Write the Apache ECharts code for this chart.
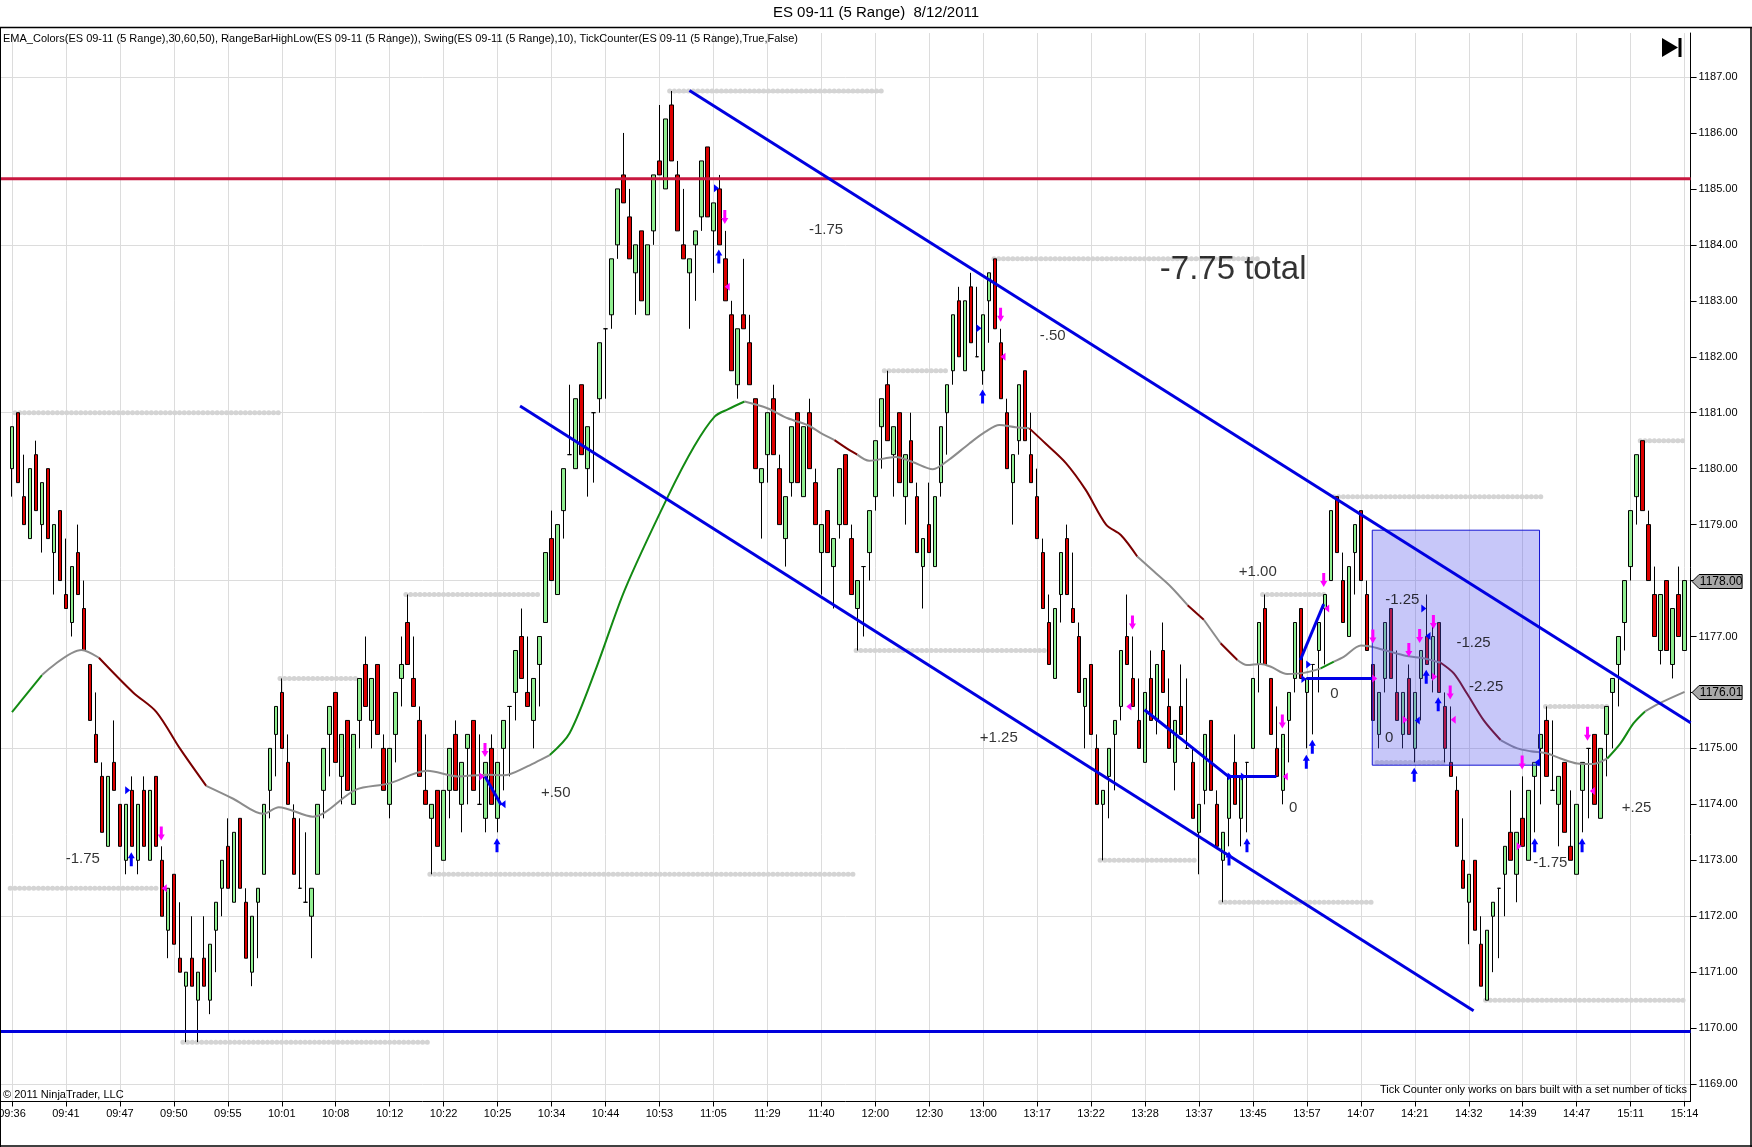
<!DOCTYPE html>
<html><head><meta charset="utf-8">
<script src="https://cdn.jsdelivr.net/npm/echarts@6/dist/echarts.min.js"></script>
<style>html,body{margin:0;padding:0;background:#fff;}#c{width:1752px;height:1147px;}</style>
</head><body><div id="c"></div>
<script>
// ---------- data ----------
const titleText = 'ES 09-11 (5 Range)  8/12/2011';
const indicatorText = 'EMA_Colors(ES 09-11 (5 Range),30,60,50), RangeBarHighLow(ES 09-11 (5 Range)), Swing(ES 09-11 (5 Range),10), TickCounter(ES 09-11 (5 Range),True,False)';
const timeLabels = ['09:36','09:41','09:47','09:50','09:55','10:01','10:08','10:12','10:22','10:25','10:34','10:44','10:53','11:05','11:29','11:40','12:00','12:30','13:00','13:17','13:22','13:28','13:37','13:45','13:57','14:07','14:21','14:32','14:39','14:47','15:11','15:14'];
const labelEvery = 9;
const yTickMin = 1169, yTickMax = 1187;
// bars: [open, close, low, high]
const bars = [
[1180.0,1180.75,1179.5,1180.75],[1181,1179.75,1179.75,1181],[1179.5,1179.0,1179.0,1180.25],[1178.75,1180,1178.75,1180],[1180.25,1179.25,1179.25,1180.5],
[1179.0,1179.75,1178.5,1179.75],[1180,1178.75,1178.75,1180],[1178.5,1179,1177.75,1179],[1179.25,1178,1178,1179.25],[1177.75,1177.5,1177.5,1178.75],
[1177.25,1178.25,1177.0,1178.25],[1178.5,1177.75,1177.75,1179],[1177.5,1176.75,1176.75,1178],[1176.5,1175.5,1175.5,1176.5],[1175.25,1174.75,1174.75,1176.0],
[1174.5,1173.5,1173.5,1174.75],[1173.25,1174.5,1173.25,1174.5],[1174.75,1174.25,1174.25,1175.5],[1174.0,1173.25,1173.25,1174.0],[1173.0,1174.0,1172.75,1174.0],
[1174.25,1173.25,1173.25,1174.5],[1173.0,1174.0,1172.75,1174.0],[1174.25,1173.25,1173.25,1174.5],[1173.0,1174.25,1173.0,1174.25],[1174.5,1173.25,1173.25,1174.5],
[1173.0,1172.0,1172.0,1173.25],[1171.75,1172.5,1171.25,1172.5],[1172.75,1171.5,1171.5,1172.75],[1171.25,1171.0,1171.0,1172.25],[1170.75,1171.0,1169.75,1171.0],
[1171.25,1170.75,1170.75,1172.0],[1170.5,1171.0,1169.75,1171.0],[1171.25,1170.75,1170.75,1172.0],[1170.5,1171.5,1170.25,1171.5],[1171.75,1172.25,1171.0,1172.25],
[1172.5,1173.0,1172.0,1173.0],[1173.25,1172.5,1172.5,1173.75],[1172.25,1173.5,1172.25,1173.5],[1173.75,1172.5,1172.5,1173.75],[1172.25,1171.25,1171.25,1172.5],
[1171.0,1172.0,1170.75,1172.0],[1172.25,1172.5,1171.25,1172.5],[1172.75,1174.0,1172.75,1174.0],[1174.25,1175.0,1173.75,1175.0],[1175.25,1175.75,1174.5,1175.75],
[1176.0,1175.0,1175.0,1176.25],[1174.75,1174.0,1174.0,1175.25],[1173.75,1172.75,1172.75,1174.0],[1172.5,1172.5,1172.5,1173.75],[1172.25,1172.25,1172.25,1173.5],
[1172.0,1172.5,1171.25,1172.5],[1172.75,1174.0,1172.75,1174.0],[1174.25,1175.0,1173.75,1175.0],[1175.25,1175.75,1174.5,1175.75],[1176.0,1174.75,1174.75,1176.0],
[1174.5,1175.25,1174.0,1175.25],[1175.5,1174.25,1174.25,1175.5],[1174.0,1175.25,1174.0,1175.25],[1175.5,1176.25,1175.0,1176.25],[1176.5,1175.75,1175.75,1177.0],
[1175.5,1176.25,1175.0,1176.25],[1176.5,1175.25,1175.25,1176.5],[1175.0,1174.25,1174.25,1175.25],[1174.0,1175.0,1173.75,1175.0],[1175.25,1176.0,1174.75,1176.0],
[1176.25,1176.5,1175.75,1177.0],[1177.25,1176.5,1176.5,1177.75],[1176.25,1175.75,1175.75,1177.0],[1175.5,1174.5,1174.5,1175.75],[1174.25,1174.0,1174.0,1175.25],
[1173.75,1174.0,1172.75,1174.0],[1174.25,1173.25,1173.25,1174.25],[1173.0,1174.25,1173.0,1174.25],[1174.25,1175.0,1173.75,1175.0],[1175.25,1174.25,1174.25,1175.5],
[1174.0,1174.75,1173.5,1174.75],[1175.0,1175.25,1174.0,1175.25],[1175.5,1174.25,1174.25,1175.5],[1174.0,1174.0,1174.0,1175.25],[1173.75,1174.75,1173.5,1174.75],
[1175.0,1174.0,1174.0,1175.25],[1173.75,1174.75,1173.5,1174.75],[1175.0,1175.5,1174.25,1175.5],[1175.75,1175.75,1174.5,1175.75],[1176.0,1176.75,1175.5,1176.75],
[1177.0,1176.25,1176.25,1177.5],[1176.0,1175.75,1175.75,1177.0],[1175.5,1176.25,1175.0,1176.25],[1176.5,1177.0,1175.75,1177.0],[1177.25,1178.5,1177.25,1178.5],
[1178.75,1178.0,1178.0,1179.25],[1177.75,1179.0,1177.75,1179.0],[1179.25,1180.0,1178.75,1180.0],[1180.25,1180.25,1180.25,1181.5],[1180.0,1181.25,1180.0,1181.25],
[1181.5,1180.25,1180.25,1181.5],[1180.0,1180.75,1179.5,1180.75],[1181.0,1181.0,1179.75,1181.0],[1181.25,1182.25,1181.0,1182.25],[1182.5,1182.5,1181.25,1182.5],
[1182.75,1183.75,1182.5,1183.75],[1184.0,1185.0,1183.75,1185.0],[1185.25,1184.75,1184.75,1186.0],[1184.5,1183.75,1183.75,1185.0],[1183.5,1184.0,1182.75,1184.0],
[1184.25,1183.0,1183.0,1184.25],[1182.75,1184.0,1182.75,1184.0],[1184.25,1185.25,1184.0,1185.25],[1185.5,1185.25,1185.25,1186.5],[1185.0,1186.25,1185.0,1186.25],
[1186.5,1185.5,1185.5,1186.75],[1185.25,1184.25,1184.25,1185.5],[1184.0,1183.75,1183.75,1185.0],[1183.5,1183.75,1182.5,1183.75],[1184.0,1184.25,1183.0,1184.25],
[1184.5,1185.5,1184.25,1185.5],[1185.75,1184.5,1184.5,1185.75],[1184.25,1184.75,1183.5,1184.75],[1185.0,1184.0,1184.0,1185.25],[1183.75,1183.0,1183.0,1184.25],
[1182.75,1181.75,1181.75,1183.0],[1181.5,1182.5,1181.25,1182.5],[1182.75,1182.5,1182.5,1183.75],[1182.25,1181.5,1181.5,1182.75],[1181.25,1180.0,1180.0,1181.25],
[1179.75,1180.0,1178.75,1180.0],[1180.25,1181.0,1179.75,1181.0],[1181.25,1180.25,1180.25,1181.5],[1180.0,1179.0,1179.0,1180.25],[1178.75,1179.5,1178.25,1179.5],
[1179.75,1180.75,1179.5,1180.75],[1181.0,1179.75,1179.75,1181.0],[1179.5,1180.75,1179.5,1180.75],[1181.0,1180.0,1180.0,1181.25],[1179.75,1179.0,1179.0,1180.0],
[1178.5,1179.0,1177.75,1179.0],[1179.25,1178.5,1178.5,1179.25],[1178.25,1178.75,1177.5,1178.75],[1179.0,1180.0,1178.75,1180.0],[1180.25,1179.0,1179.0,1180.25],
[1178.75,1177.75,1177.75,1179.0],[1177.5,1178.0,1176.75,1178.0],[1178.25,1178.25,1177.0,1178.25],[1178.5,1179.25,1178.0,1179.25],[1179.5,1180.5,1179.25,1180.5],
[1180.75,1181.25,1180.0,1181.25],[1181.5,1180.5,1180.5,1181.75],[1180.25,1180.75,1179.5,1180.75],[1181.0,1179.75,1179.75,1181.0],[1179.5,1180.25,1179.0,1180.25],
[1180.5,1179.75,1179.75,1181.0],[1179.5,1178.5,1178.5,1179.75],[1178.25,1178.75,1177.5,1178.75],[1179.0,1178.5,1178.5,1179.75],[1178.25,1179.5,1178.25,1179.5],
[1179.75,1180.75,1179.5,1180.75],[1181.0,1181.5,1180.25,1181.5],[1181.75,1182.75,1181.5,1182.75],[1183.0,1182.0,1182.0,1183.25],[1181.75,1183.0,1181.75,1183.0],
[1183.25,1182.25,1182.25,1183.5],[1182.0,1182.0,1182.0,1183.25],[1181.75,1182.75,1181.5,1182.75],[1183.0,1183.5,1182.25,1183.5],[1183.75,1182.5,1182.5,1183.75],
[1182.25,1181.25,1181.25,1182.5],[1181.0,1180.0,1180.0,1181.25],[1179.75,1180.25,1179.0,1180.25],[1180.5,1181.5,1180.25,1181.5],[1181.75,1180.5,1180.5,1181.75],
[1180.25,1179.75,1179.75,1181.0],[1179.5,1178.75,1178.75,1180.0],[1178.5,1177.5,1177.5,1178.75],[1177.25,1176.5,1176.5,1177.75],[1176.25,1177.5,1176.25,1177.5],
[1177.75,1178.5,1177.25,1178.5],[1178.75,1177.75,1177.75,1179.0],[1177.5,1177.25,1177.25,1178.5],[1177.0,1176.0,1176.0,1177.25],[1175.75,1176.25,1175.0,1176.25],
[1176.5,1175.25,1175.25,1176.5],[1175.0,1174.0,1174.0,1175.25],[1174.0,1174.25,1173.0,1174.25],[1174.5,1175.0,1173.75,1175.0],[1175.25,1175.5,1174.25,1175.5],
[1175.75,1176.75,1175.5,1176.75],[1177.0,1176.5,1176.5,1177.75],[1176.25,1175.75,1175.75,1177.0],[1175.5,1175.0,1175.0,1176.25],[1174.75,1176.0,1174.75,1176.0],
[1176.25,1175.5,1175.5,1176.75],[1175.5,1176.5,1175.25,1176.5],[1176.75,1176.0,1176.0,1177.25],[1175.75,1175.0,1175.0,1176.25],[1174.75,1175.5,1174.25,1175.5],
[1175.75,1175.25,1175.25,1176.5],[1175.0,1175.0,1175.0,1176.25],[1174.75,1173.75,1173.75,1175.0],[1173.5,1174.0,1172.75,1174.0],[1174.25,1175.25,1174.0,1175.25],
[1175.5,1174.25,1174.25,1175.5],[1174.0,1173.25,1173.25,1174.25],[1173.0,1173.5,1172.25,1173.5],[1173.75,1174.5,1173.25,1174.5],[1174.75,1174.0,1174.0,1175.25],
[1173.75,1174.5,1173.25,1174.5],[1174.75,1174.75,1173.5,1174.75],[1175.0,1176.25,1175.0,1176.25],[1176.5,1177.25,1176.0,1177.25],[1177.5,1176.5,1176.5,1177.75],
[1176.25,1175.25,1175.25,1176.25],[1175.0,1174.5,1174.5,1175.75],[1174.25,1175.25,1174.0,1175.25],[1175.5,1176.0,1174.75,1176.0],[1176.25,1177.25,1176.0,1177.25],
[1177.5,1176.25,1176.25,1177.5],[1176.0,1176.25,1175.0,1176.25],[1176.5,1176.5,1175.25,1176.5],[1176.75,1177.25,1176.0,1177.25],[1177.5,1177.75,1176.5,1177.75],
[1178.0,1179.25,1178.0,1179.25],[1179.5,1178.5,1178.5,1179.5],[1178.0,1177.25,1177.25,1178.5],[1177.0,1178.25,1177.0,1178.25],[1178.5,1179.0,1177.75,1179.0],
[1179.25,1178.0,1178.0,1179.25],[1177.75,1176.75,1176.75,1178.0],[1176.5,1175.5,1175.5,1176.5],[1175.25,1176.0,1175.0,1176.0],[1176.25,1177.25,1176.0,1177.25],
[1177.5,1176.25,1176.25,1177.5],[1176.0,1175.5,1175.5,1176.75],[1175.25,1176.0,1175.0,1176.0],[1176.25,1175.25,1175.25,1176.5],[1175.0,1176.0,1174.75,1176.0],
[1176.25,1176.75,1175.5,1176.75],[1177.0,1176.5,1176.5,1177.75],[1176.25,1177.0,1176.0,1177.25],[1177.25,1176.0,1176.0,1177.25],[1175.75,1175.0,1174.75,1176.0],
[1174.75,1174.5,1174.5,1175.75],[1174.25,1173.25,1173.25,1174.5],[1173.0,1172.5,1172.5,1173.75],[1172.25,1172.75,1171.5,1172.75],[1173.0,1171.75,1171.75,1173.0],
[1171.5,1170.75,1170.75,1172.0],[1170.5,1171.75,1170.5,1171.75],[1172.0,1172.25,1171.0,1172.25],[1172.5,1172.5,1171.25,1172.5],[1172.75,1173.25,1172.0,1173.25],
[1173.5,1173.0,1173.0,1174.25],[1172.75,1173.5,1172.25,1173.5],[1173.75,1173.25,1173.25,1174.5],[1173.0,1174.25,1173.0,1174.25],[1174.5,1174.75,1173.5,1174.75],
[1175.0,1175.25,1174.0,1175.25],[1175.5,1174.5,1174.5,1175.75],[1174.25,1174.25,1174.25,1175.5],[1174.0,1174.5,1173.25,1174.5],[1174.75,1173.5,1173.5,1174.75],
[1173.25,1173.0,1173.0,1174.25],[1172.75,1174.0,1172.75,1174.0],[1174.25,1174.75,1173.5,1174.75],[1175.0,1175.0,1173.75,1175.0],[1175.25,1174.0,1174.0,1175.25],
[1173.75,1175.0,1173.75,1175.0],[1175.25,1175.75,1174.5,1175.75],[1176.0,1176.25,1175.0,1176.25],[1176.5,1177.0,1175.75,1177.0],[1177.25,1178.0,1176.75,1178.0],
[1178.25,1179.25,1178.0,1179.25],[1179.5,1180.25,1179.0,1180.25],[1180.5,1179.25,1179.25,1180.5],[1179.0,1178.0,1178.0,1179.25],[1177.75,1177.0,1177.0,1178.25],
[1176.75,1177.75,1176.5,1177.75],[1178.0,1176.75,1176.75,1178.0],[1176.5,1177.5,1176.25,1177.5],[1177.75,1177.0,1177.0,1178.25],[1176.75,1178.0,1176.75,1178.0]
];
// EMA: [bar position, value, colour state g=rising r=falling n=flat]
const emaPoints = [
[0,1175.65,'g'],[5,1176.31,'n'],[11.6,1176.76,'n'],[14.5,1176.62,'r'],[20.2,1176.0,'r'],[24.1,1175.65,'r'],[28,1175.0,'r'],[32.4,1174.33,'n'],
[36.9,1174.1,'n'],[41.9,1173.83,'n'],[44.5,1173.95,'n'],[50.2,1173.78,'n'],[57.3,1174.26,'n'],[62.8,1174.37,'n'],[69.3,1174.6,'n'],[74.3,1174.5,'n'],
[79.3,1174.53,'n'],[82.1,1174.52,'n'],[85.8,1174.67,'n'],[89.7,1174.88,'g'],[93,1175.27,'g'],[97.5,1176.45,'g'],[102.2,1177.83,'g'],[109.4,1179.5,'g'],
[113.8,1180.4,'g'],[117.2,1180.93,'g'],[119.4,1181.06,'g'],[122.2,1181.2,'n'],[126,1181.08,'n'],[129.4,1180.9,'n'],[132.7,1180.78,'n'],[135,1180.63,'n'],
[137.2,1180.51,'r'],[139.7,1180.33,'r'],[141,1180.25,'n'],[143,1180.14,'n'],[147.4,1180.21,'n'],[150.2,1180.12,'n'],[153.6,1179.99,'n'],[156.3,1180.16,'n'],
[159.7,1180.45,'n'],[162.4,1180.66,'n'],[164.7,1180.78,'n'],[167.4,1180.74,'n'],[169.7,1180.72,'r'],[172.4,1180.45,'r'],[175.8,1180.1,'r'],[179.1,1179.62,'r'],
[182.5,1179.0,'r'],[185,1178.81,'r'],[187.7,1178.43,'n'],[190.5,1178.16,'n'],[193.3,1177.89,'n'],[196.1,1177.56,'r'],[198.8,1177.3,'n'],[201.6,1176.88,'r'],
[204.4,1176.58,'n'],[206,1176.49,'n'],[208.3,1176.51,'n'],[210,1176.46,'n'],[212.7,1176.33,'n'],[215.5,1176.35,'n'],[218.3,1176.43,'g'],[220.5,1176.55,'n'],
[222.2,1176.64,'n'],[225,1176.84,'n'],[226.6,1176.82,'n'],[228.8,1176.76,'n'],[232.7,1176.65,'n'],[235.5,1176.61,'n'],[238.3,1176.53,'r'],[240.5,1176.34,'r'],
[242.7,1175.98,'r'],[245.5,1175.5,'r'],[248.3,1175.15,'n'],[251.1,1175.0,'n'],[253.3,1174.95,'n'],[256.1,1174.91,'n'],[258.3,1174.82,'n'],[261.1,1174.73,'n'],
[263.8,1174.72,'n'],[266.1,1174.82,'g'],[268.3,1175.09,'g'],[270.5,1175.45,'g'],[272.4,1175.66,'n'],[274.7,1175.8,'n'],[279,1176.01,'n']
];
// RangeBarHighLow dotted levels: [price, from bar, to bar]
const rangeLevels = [
[1181.0,0.5,44.5],[1172.5,-0.3,24.7],[1169.75,28.5,69.3],[1176.25,44.7,58],[1177.75,65.7,88.3],[1172.75,69.7,140.4],
[1186.75,109.7,145],[1181.75,145.5,156.3],[1183.75,163.8,208.3],[1176.75,140.8,172.4],[1173.0,181.5,197.4],[1172.25,201.6,227.4],
[1177.75,208.6,219.1],[1179.5,220.5,255.3],[1174.75,227.7,239.4],[1175.75,255.8,266.3],[1170.5,245.8,279.5],[1180.5,271.6,279.4]
];
const redLevel = 1185.18;
const blueLevel = 1169.94;
const channelUpper = [[113,1186.76],[280,1175.46]];
const channelLower = [[84.75,1181.12],[243.8,1170.31]];
const swingLines = [
[[78.9,1174.5],[81.6,1173.99]],
[[188.9,1175.69],[202.9,1174.5],[210.9,1174.5]],
[[214.9,1176.58],[218.8,1177.58]],
[[215.9,1176.25],[226.9,1176.25]]
];
const boxArea = [226.9,1178.9,254.8,1174.7];
const upArrows = [[19.9,1173.02],[80.9,1173.27],[117.9,1183.79],[161.9,1181.29],[203,1173.03],[206,1173.27],[215.9,1174.76],[216.9,1175.03],[235.9,1176.28],[237.9,1175.79],[233.9,1174.53],[254,1173.27],[261.9,1173.27]];
const downArrows = [[24.9,1173.48],[78.9,1174.97],[118.9,1184.5],[164.9,1182.75],[186.9,1177.25],[211.9,1175.48],[218.8,1178.01],[227.0,1177.0],[237.1,1177.26],[234.8,1177.01],[233,1176.76],[239.9,1176.0],[251.9,1174.75],[262.8,1175.26]];
const blueRightTris = [[19.3,1174.25],[117.5,1185.01],[161.3,1182.51],[203.2,1174.5],[205.4,1174.5],[215.5,1176.24],[216.3,1176.5],[235.5,1177.5]];
const blueLeftTris = [[81.9,1174.0],[236.2,1177.01],[234.4,1175.5],[254.4,1174.75]];
const pinkRightTris = [[78.4,1174.5],[227.3,1176.25],[237.3,1176.28],[232.4,1175.51],[251.4,1173.25]];
const pinkLeftTris = [[25.4,1172.5],[119.3,1183.25],[165.3,1182.0],[186.3,1175.75],[212.4,1174.5],[219.3,1177.5],[240.4,1175.51],[263.6,1174.24]];
const notes = [
[11.8,1173.02,'-1.75',15],[135.8,1184.27,'-1.75',15],[203.7,1183.55,'-7.75 total',33],[173.6,1182.37,'-.50',15],
[90.7,1174.2,'+.50',15],[164.6,1175.18,'+1.25',15],[207.8,1178.15,'+1.00',15],[220.6,1175.98,'0',15],[213.7,1173.93,'0',15],
[231.9,1177.66,'-1.25',15],[243.8,1176.89,'-1.25',15],[245.9,1176.1,'-2.25',15],[229.7,1175.18,'0',15],[256.6,1172.96,'-1.75',15],[271,1173.93,'+.25',15]
];
const priceTags = [1178.00, 1176.01];

// ---------- layout constants ----------
const W = 1752, H = 1147;
const FONT = '"Liberation Sans", Arial, sans-serif';
const xMin = -2, xMax = 280;
const plotRightEdge = 1690.6;
const pxPerPoint = 55.95, y1187 = 77;
const gridTop = 33, gridBottomY = 1101.5;
const yMaxMain = yTickMax + (y1187 - gridTop) / pxPerPoint;
const yMinMain = yTickMax - (gridBottomY - y1187) / pxPerPoint;
const y1169 = y1187 + (yTickMax - yTickMin) * pxPerPoint;

const cats = [];
for (let k = xMin; k <= xMax; k++) {
  cats.push(k >= 0 && k % labelEvery === 0 && k / labelEvery < timeLabels.length ? timeLabels[k / labelEvery] : '');
}
const isLabelled = function (i, v) { return v !== ''; };

const chart = echarts.init(document.getElementById('c'), null, {renderer: 'canvas'});

const series = [];
// dotted range levels
rangeLevels.forEach(l => series.push({
  type: 'line', xAxisIndex: 0, yAxisIndex: 0, symbol: 'none', silent: true, z: 1,
  data: [[l[1], l[0]], [l[2], l[0]]],
  lineStyle: {color: '#d4d4d4', width: 5, type: [0.1, 4.6], cap: 'round'}
}));
// candles
series.push({
  type: 'candlestick', xAxisIndex: 0, yAxisIndex: 0, z: 3, barWidth: 4,
  data: bars.map((b, i) => [i, b[0], b[1], b[2], b[3]]),
  encode: {x: 0, y: [1, 2, 3, 4]},
  itemStyle: {color: '#90ee90', color0: '#dd0000', borderColor: '#000', borderColor0: '#000', borderColorDoji: '#000', borderWidth: 1}
});
// EMA coloured segments
const emaColors = {g: '#138a13', r: '#7a0000', n: '#8c8c8c'};
const groups = [];
let cur = null;
for (let i = 0; i < emaPoints.length - 1; i++) {
  const st = emaPoints[i][2];
  if (!cur || cur.st !== st) { cur = {st: st, pts: [[emaPoints[i][0], emaPoints[i][1]]]}; groups.push(cur); }
  cur.pts.push([emaPoints[i + 1][0], emaPoints[i + 1][1]]);
}
groups.forEach(g => series.push({
  type: 'line', xAxisIndex: 0, yAxisIndex: 0, symbol: 'none', silent: true, z: 4, smooth: 0.3,
  data: g.pts, lineStyle: {color: emaColors[g.st], width: 2}
}));
// box
series.push({
  type: 'custom', xAxisIndex: 0, yAxisIndex: 0, z: 5, silent: true, data: [boxArea],
  renderItem: function (params, api) {
    const a = api.coord([api.value(0), api.value(1)]);
    const b = api.coord([api.value(2), api.value(3)]);
    return {type: 'rect', shape: {x: a[0], y: a[1], width: b[0] - a[0], height: b[1] - a[1]},
      style: {fill: 'rgba(80,80,235,0.32)', stroke: '#1414d2', lineWidth: 1}};
  }
});
// horizontal levels
series.push({type: 'line', xAxisIndex: 0, yAxisIndex: 0, symbol: 'none', silent: true, z: 6,
  data: [[xMin, redLevel], [xMax, redLevel]], lineStyle: {color: '#c8173f', width: 3}});
series.push({type: 'line', xAxisIndex: 0, yAxisIndex: 0, symbol: 'none', silent: true, z: 6,
  data: [[xMin, blueLevel], [xMax, blueLevel]], lineStyle: {color: '#0000dc', width: 3}});
// channel lines
[channelUpper, channelLower].forEach(c => series.push({type: 'line', xAxisIndex: 0, yAxisIndex: 0, symbol: 'none', silent: true, z: 6,
  data: c, lineStyle: {color: '#0000e0', width: 3}}));
// swing lines
swingLines.forEach(s => series.push({type: 'line', xAxisIndex: 0, yAxisIndex: 0, symbol: 'none', silent: true, z: 6,
  data: s, lineStyle: {color: '#0000e6', width: 3}}));
// markers
const upPath = 'path://M3.5,0 L7,6 L5,6 L5,14 L2,14 L2,6 L0,6 Z';
const downPath = 'path://M2,0 L5,0 L5,8 L7,8 L3.5,14 L0,8 L2,8 Z';
const rightPath = 'path://M0,0 L6,4 L0,8 Z';
const leftPath = 'path://M6,0 L0,4 L6,8 Z';
[[upArrows, upPath, [7, 14], '#0000ff'], [downArrows, downPath, [7, 14], '#ff00ff'],
 [blueRightTris, rightPath, [5, 8], '#0000ff'], [blueLeftTris, leftPath, [5, 8], '#0000ff'],
 [pinkRightTris, rightPath, [5, 8], '#ff00ff'], [pinkLeftTris, leftPath, [5, 8], '#ff00ff']].forEach(m => series.push({
  type: 'scatter', xAxisIndex: 0, yAxisIndex: 0, z: 7, silent: true, symbol: m[1], symbolSize: m[2],
  data: m[0], itemStyle: {color: m[3], opacity: 1}
}));
// text notes
series.push({
  type: 'scatter', xAxisIndex: 0, yAxisIndex: 0, z: 8, silent: true, symbolSize: 0,
  data: notes.map(n => ({name: n[2], value: [n[0], n[1]], label: {fontSize: n[3]}})),
  label: {show: true, position: 'inside', formatter: '{b}', color: '#000', fontFamily: FONT}
});
// price tags on the axis
series.push({
  type: 'custom', xAxisIndex: 0, yAxisIndex: 0, z: 20, silent: true, clip: false,
  data: priceTags.map(p => [xMax, p]),
  renderItem: function (params, api) {
    const p = api.coord([api.value(0), api.value(1)]);
    const x = p[0] + 1.5, y = Math.round(p[1]) + 0.5;
    return {type: 'group', children: [
      {type: 'polygon', shape: {points: [[x, y], [x + 7, y - 7], [x + 50, y - 7], [x + 50, y + 7], [x + 7, y + 7]]},
        style: {fill: '#a8a8a8', stroke: '#000', lineWidth: 1}},
      {type: 'text', style: {text: api.value(1).toFixed(2), x: x + 29, y: y + 0.5, align: 'center', verticalAlign: 'middle',
        font: '12px ' + FONT, fill: '#000'}}
    ]};
  }
});

const option = {
  animation: false,
  backgroundColor: '#fff',
  grid: [
    {left: 0, right: W - plotRightEdge, top: gridTop, bottom: H - gridBottomY, containLabel: false, outerBoundsMode: 'none'},
    {left: 0, right: W - plotRightEdge, top: y1187, bottom: H - y1169, containLabel: false, outerBoundsMode: 'none'}
  ],
  xAxis: [
    {type: 'value', gridIndex: 0, min: xMin, max: xMax, show: false, position: 'top', axisLine: {onZero: false}},
    {type: 'category', gridIndex: 0, data: cats, boundaryGap: false, position: 'bottom',
      axisLine: {show: true, onZero: false, lineStyle: {color: '#000', width: 1}},
      axisTick: {show: true, interval: isLabelled, length: 5, lineStyle: {color: '#000'}},
      axisLabel: {interval: 0, color: '#000', fontSize: 11, fontFamily: FONT, margin: 7},
      splitLine: {show: true, interval: isLabelled, lineStyle: {color: '#dcdcdc', width: 1}}},
    {type: 'value', gridIndex: 1, min: xMin, max: xMax, show: false, axisLine: {onZero: false}}
  ],
  yAxis: [
    {type: 'value', gridIndex: 0, min: yMinMain, max: yMaxMain, position: 'right',
      axisLine: {show: true, onZero: false, lineStyle: {color: '#000', width: 1}}, axisTick: {show: false}, axisLabel: {show: false}, splitLine: {show: false}},
    {type: 'value', gridIndex: 1, min: yTickMin, max: yTickMax, interval: 1, position: 'right',
      axisLine: {show: false, onZero: false}, axisTick: {show: true, length: 6, lineStyle: {color: '#000'}},
      axisLabel: {color: '#000', fontSize: 11, fontFamily: FONT, margin: 8, formatter: v => v.toFixed(2)}, splitLine: {show: false}},
    {type: 'value', gridIndex: 1, min: yTickMin, max: yTickMax, interval: 3, position: 'right',
      axisLine: {show: false, onZero: false}, axisTick: {show: false}, axisLabel: {show: false},
      splitLine: {show: true, lineStyle: {color: '#dcdcdc', width: 1}}}
  ],
  series: series,
  graphic: [
    {type: 'text', left: 'center', top: 5, style: {text: titleText, font: '15px ' + FONT, fill: '#000'}, z: 50},
    {type: 'text', x: 3, y: 33, style: {text: indicatorText, font: '11px ' + FONT, fill: '#000'}, z: 50},
    {type: 'text', x: 3, y: 1089, style: {text: '\u00a9 2011 NinjaTrader, LLC', font: '11px ' + FONT, fill: '#000'}, z: 50},
    {type: 'text', x: 1687, y: 1084, style: {text: 'Tick Counter only works on bars built with a set number of ticks', font: '11px ' + FONT, fill: '#000', align: 'right'}, z: 50},
    {type: 'polygon', shape: {points: [[1662, 38], [1678, 47.5], [1662, 57]]}, style: {fill: '#000'}, z: 50},
    {type: 'rect', shape: {x: 1678.5, y: 38, width: 3, height: 19}, style: {fill: '#000'}, z: 50},
    {type: 'line', shape: {x1: 0, y1: 27.5, x2: W, y2: 27.5}, style: {stroke: '#000', lineWidth: 1.5}, z: 50},
    {type: 'line', shape: {x1: 0.5, y1: 27, x2: 0.5, y2: H}, style: {stroke: '#000', lineWidth: 1}, z: 50},
    {type: 'line', shape: {x1: W - 1, y1: 27, x2: W - 1, y2: H}, style: {stroke: '#000', lineWidth: 1.5}, z: 50},
    {type: 'line', shape: {x1: 0, y1: H - 1, x2: W, y2: H - 1}, style: {stroke: '#000', lineWidth: 1.5}, z: 50}
  ]
};
chart.setOption(option);
</script>
</body></html>
